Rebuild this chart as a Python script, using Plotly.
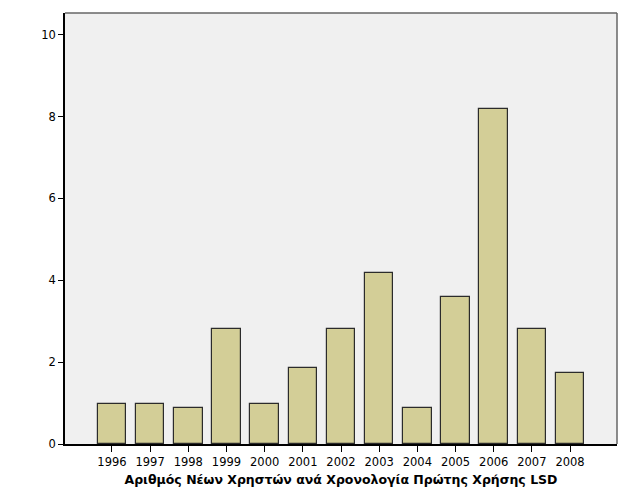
import plotly.graph_objects as go

years = ["1996", "1997", "1998", "1999", "2000", "2001", "2002",
         "2003", "2004", "2005", "2006", "2007", "2008"]
values = [0.97, 0.97, 0.89, 2.82, 0.97, 1.86, 2.82,
          4.17, 0.87, 3.60, 8.18, 2.81, 1.74]
y_ticks = [0, 2, 4, 6, 8, 10]
x_title = "Αριθμός Νέων Χρηστών ανά Χρονολογία Πρώτης Χρήσης LSD"

fig = go.Figure(go.Bar(
    x=years, y=values, width=0.75,
    marker=dict(color="#d3ce97", line=dict(color="#2b2b2b", width=1.2)),
))

# page body has an 8px margin; compensate so the plot lands where the reference has it
fig.update_layout(
    width=621, height=496,
    margin=dict(l=57, r=12, t=5, b=60),
    paper_bgcolor="white", plot_bgcolor="#f0f0f0",
    font=dict(family="DejaVu Sans", size=11.5, color="#000"),
    showlegend=False,
    bargap=0,
    shapes=[
        dict(type="line", xref="paper", yref="paper", x0=0, x1=1, y0=1, y1=1,
             line=dict(color="#666", width=1.5)),
        dict(type="line", xref="paper", yref="paper", x0=1, x1=1, y0=0, y1=1,
             line=dict(color="#666", width=1.5)),
    ],
)
fig.update_xaxes(
    type="category", range=[-1.23, 13.23],
    showline=True, linecolor="#000", linewidth=1.5,
    ticks="outside", ticklen=6, tickcolor="#000", tickwidth=1,
    showgrid=False, zeroline=False,
    title=dict(text="<b>" + x_title + "</b>", font=dict(size=12.5, family="DejaVu Sans"), standoff=8),
)
fig.update_yaxes(
    range=[0, 10.53], tickvals=y_ticks,
    showline=True, linecolor="#000", linewidth=1.5,
    ticks="outside", ticklen=5, tickcolor="#000", tickwidth=1,
    showgrid=False, zeroline=False,
)

fig.write_html("out.html")
